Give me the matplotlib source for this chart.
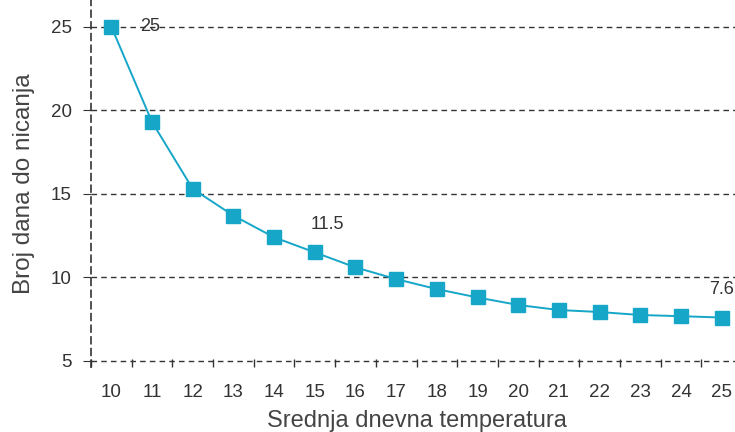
import matplotlib
matplotlib.use("Agg")
import matplotlib.pyplot as plt

# podaci
temperature = list(range(10, 26))
dani = [25, 19.3, 15.3, 13.7, 12.4, 11.5, 10.6, 9.9, 9.3, 8.8, 8.35, 8.05, 7.93, 7.75, 7.68, 7.6]
oznake = {10: "25", 15: "11.5", 25: "7.6"}

plt.rcParams['font.family'] = ['Liberation Sans', 'DejaVu Sans']
tekst = '#333333'
boja = '#15a6c8'

fig = plt.figure(figsize=(7.35, 4.32), dpi=100)
ax = fig.add_axes([91 / 735, 1 - 367 / 432, 651 / 735, 367 / 432])

ax.plot(temperature, dani, color=boja, lw=1.4, marker='s', markersize=10,
        markerfacecolor=boja, markeredgecolor=boja, zorder=3)

# pomaci oznaka (u točkama)
pomaci = {10: (28, 0), 15: (9, 20), 25: (0, 20)}
for t, d in zip(temperature, dani):
    if t in oznake:
        ax.annotate(oznake[t], (t, d), xytext=pomaci[t], textcoords='offset points',
                    ha='center', va='center', fontsize=13, color=tekst)

ax.set_xlim(9.5, 25.5)
ax.set_ylim(4.64, 26.6)
ax.set_yticks([5, 10, 15, 20, 25])
ax.set_xticks(temperature)
ax.set_xticks([t + 0.5 for t in temperature[:-1]] + [9.5], minor=True)

ax.grid(axis='y', linestyle=(0, (4, 3)), color='#333333', lw=1)
ax.set_axisbelow(True)

for s in ['top', 'right', 'bottom']:
    ax.spines[s].set_visible(False)
ax.spines['left'].set_linestyle((0, (4, 3)))
ax.spines['left'].set_color('#333333')
ax.spines['left'].set_linewidth(1.2)

ax.tick_params(axis='y', length=6, color='#333333', labelsize=13.5, labelcolor=tekst, pad=8)
ax.tick_params(axis='x', which='major', length=0, labelsize=13.5, labelcolor=tekst, pad=12)
ax.tick_params(axis='x', which='minor', direction='in', length=6, color='#333333', width=1)

ax.set_xlabel('Srednja dnevna temperatura', fontsize=17, color='#444444', labelpad=7)
ax.set_ylabel('Broj dana do nicanja', fontsize=17.5, color='#444444', labelpad=11)

fig.savefig('out.png', dpi=100)
